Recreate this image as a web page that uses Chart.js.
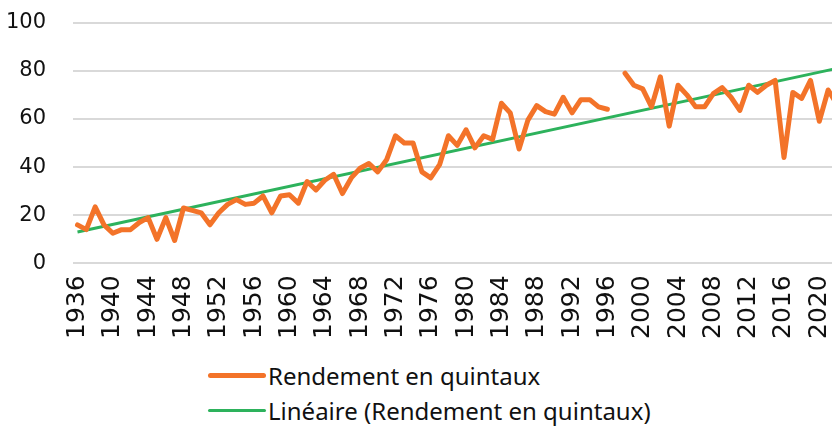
<!DOCTYPE html>
<html lang="fr">
<head>
<meta charset="utf-8">
<script src="https://cdn.jsdelivr.net/npm/chart.js@4/dist/chart.umd.min.js"></script>
<style>
  html, body { margin: 0; padding: 0; background: #fff; overflow: hidden; width: 832px; height: 432px; }
  #wrap { position: relative; width: 832px; height: 432px; overflow: hidden; }
  #cadre { position: absolute; left: -27px; top: -17px; width: 898px; height: 360px; }
  #legende { position: absolute; left: 208px; top: 358px; font-family: "Noto Sans", sans-serif; font-size: 24px; color: #111; }
  .item { display: flex; align-items: center; height: 35px; }
  .trait { width: 58px; margin-right: 2px; border-radius: 3px; }
</style>
</head>
<body>
<div id="wrap">
  <div id="cadre"><canvas id="myChart"></canvas></div>
  <div id="legende"></div>
</div>
<script>
// Années (catégories)
const annees = [
  1936, 1937, 1938, 1939, 1940, 1941, 1942, 1943, 1944, 1945,
  1946, 1947, 1948, 1949, 1950, 1951, 1952, 1953, 1954, 1955,
  1956, 1957, 1958, 1959, 1960, 1961, 1962, 1963, 1964, 1965,
  1966, 1967, 1968, 1969, 1970, 1971, 1972, 1973, 1974, 1975,
  1976, 1977, 1978, 1979, 1980, 1981, 1982, 1983, 1984, 1985,
  1986, 1987, 1988, 1989, 1990, 1991, 1992, 1993, 1994, 1995,
  1996, 1997, 1998, 1999, 2000, 2001, 2002, 2003, 2004, 2005,
  2006, 2007, 2008, 2009, 2010, 2011, 2012, 2013, 2014, 2015,
  2016, 2017, 2018, 2019, 2020, 2021, 2022
];

// Rendement en quintaux (1997 manquant)
const rendement = [
  16, 14, 23.5, 16, 12.5, 14, 14, 17, 19, 10,
  19, 9.5, 23, 22, 21, 16, 21, 24.5, 26.5, 24.5,
  25, 28, 21, 28, 28.5, 25, 34, 30.5, 34.5, 37,
  29, 35.5, 39.5, 41.5, 38, 43, 53, 50, 50, 38,
  35.5, 41, 53, 49, 55.5, 48, 53, 51.5, 66.5, 62.5,
  47.5, 59.5, 65.5, 63, 62, 69, 62.5, 68, 68, 65,
  64, null, 79, 74, 72.5, 65, 77.5, 57, 74, 70,
  65, 65, 70.5, 73, 69, 63.5, 74, 71, 74, 76,
  44, 71, 68.5, 76, 59, 72, 66
];

// Tendance linéaire : valeurs lues aux deux extrémités
const tendanceDebut = 13;
const tendanceFin = 81;

// Graduations de l'axe Y
const ticksY = [0, 20, 40, 60, 80, 100];

const orange = '#F37329';
const vert = '#2DB25C';

const tendance = annees.map((a, i) => i === 0 ? tendanceDebut : (i === annees.length - 1 ? tendanceFin : null));

const ctx = document.getElementById('myChart').getContext('2d');

const myChart = new Chart(ctx, {
    type: 'line',
    data: {
        labels: annees,
        datasets: [
            {
                label: 'Rendement en quintaux',
                data: rendement,
                borderColor: orange,
                backgroundColor: orange,
                borderWidth: 5,
                pointRadius: 0,
                tension: 0,
                spanGaps: false,
                borderJoinStyle: 'round',
                borderCapStyle: 'round'
            },
            {
                label: 'Linéaire (Rendement en quintaux)',
                data: tendance,
                borderColor: vert,
                backgroundColor: vert,
                borderWidth: 3,
                pointRadius: 0,
                tension: 0,
                spanGaps: true
            }
        ]
    },
    options: {
        responsive: true,
        maintainAspectRatio: false,
        animation: false,
        layout: { padding: { left: 6, right: 3, top: 0, bottom: 0 } },
        plugins: {
            legend: { display: false },
            tooltip: { enabled: false }
        },
        scales: {
            x: {
                offset: true,
                grid: { display: false },
                border: { display: false },
                ticks: {
                    autoSkip: false,
                    minRotation: 90,
                    maxRotation: 90,
                    padding: 4,
                    color: '#111',
                    font: { family: 'DejaVu Sans', size: 25 },
                    callback: function(value, index) {
                        return (annees[index] - 1936) % 4 === 0 ? String(annees[index]) : '';
                    }
                }
            },
            y: {
                min: 0,
                max: 100,
                afterBuildTicks: function(axis) {
                    axis.ticks = ticksY.map(v => ({ value: v }));
                },
                grid: { color: '#d9d9d9', lineWidth: 2, drawTicks: false },
                border: { display: false },
                ticks: {
                    padding: 27,
                    color: '#111',
                    font: { family: 'DejaVu Sans', size: 21 }
                }
            }
        }
    }
});

// Légende HTML (une entrée par ligne, alignées à gauche)
const legende = document.getElementById('legende');
myChart.data.datasets.forEach(ds => {
    const item = document.createElement('div');
    item.className = 'item';
    const trait = document.createElement('span');
    trait.className = 'trait';
    trait.style.height = ds.borderWidth + 'px';
    trait.style.background = ds.borderColor;
    const texte = document.createElement('span');
    texte.textContent = ds.label;
    item.appendChild(trait);
    item.appendChild(texte);
    legende.appendChild(item);
});
</script>
</body>
</html>
